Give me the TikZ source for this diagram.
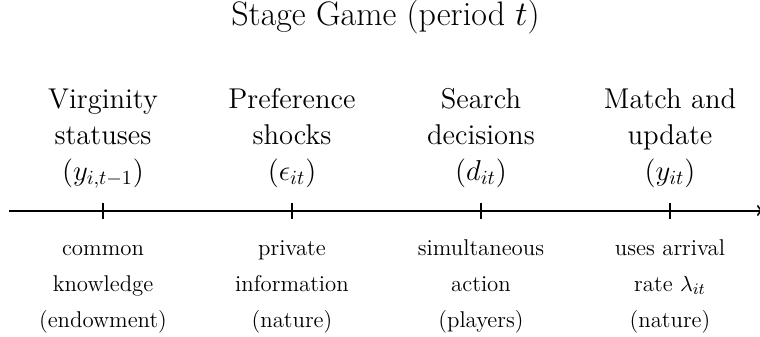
\documentclass[tikz,border=0pt]{standalone}
\begin{document}
\begin{tikzpicture}[x=0.5pt,y=-0.5pt,
  axis/.style={line width=1pt,->},
  tickmark/.style={line width=0.6pt},
  titlelab/.style={anchor=base,inner sep=0pt,font=\fontsize{17}{20}\selectfont},
  uplab/.style={anchor=base,inner sep=0pt,align=center,font=\fontsize{14.3}{18}\selectfont},
  lowlab/.style={anchor=base,inner sep=0pt,align=center,font=\fontsize{11.4}{18}\selectfont}]
\useasboundingbox (0,0) rectangle (760,337);
\node[titlelab] (title) at (385.5,25.5) {Stage Game (period $t$)};
\coordinate (start) at (9,210.5);
\coordinate (end) at (763,210.5);
\coordinate (t1) at (103,210.5);
\coordinate (t2) at (292,210.5);
\coordinate (t3) at (481,210.5);
\coordinate (t4) at (670,210.5);
\draw[axis] (start) -- (end);
\foreach \t in {t1,t2,t3,t4}{
  \draw[tickmark] ([yshift=-4pt]\t) -- ([yshift=4pt]\t);
}
\node[uplab] (u1) at ([yshift=15pt]t1) {Virginity\\statuses\\$(y_{i,t-1})$};
\node[uplab] (u2) at ([yshift=15pt]t2) {Preference\\shocks\\$(\epsilon_{it})$};
\node[uplab] (u3) at ([yshift=15pt]t3) {Search\\decisions\\$(d_{it})$};
\node[uplab] (u4) at ([yshift=15pt]t4) {Match and\\update\\$(y_{it})$};
\node[lowlab] (l1) at ([yshift=-58.25pt]t1) {common\\knowledge\\(endowment)};
\node[lowlab] (l2) at ([yshift=-58.25pt]t2) {private\\information\\(nature)};
\node[lowlab] (l3) at ([yshift=-58.25pt]t3) {simultaneous\\action\\(players)};
\node[lowlab] (l4) at ([yshift=-58.25pt]t4) {uses arrival\\rate $\lambda_{it}$\\(nature)};
\end{tikzpicture}
\end{document}
